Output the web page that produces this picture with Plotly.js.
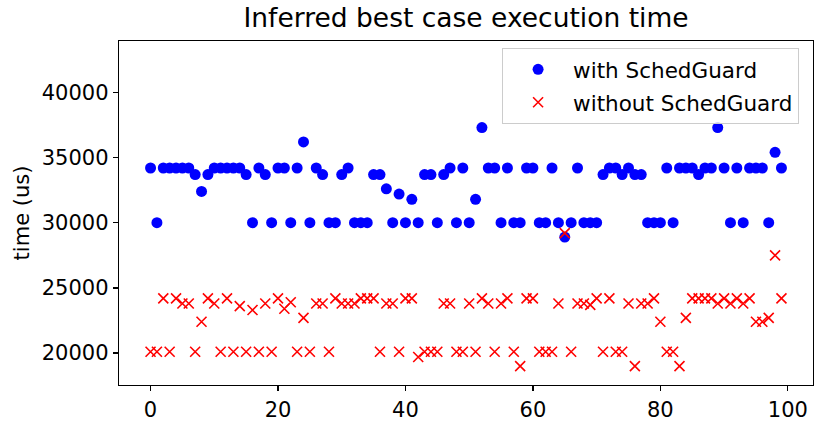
<!DOCTYPE html>
<html>
<head>
<meta charset="utf-8">
<script src="https://cdn.plot.ly/plotly-3.0.1.min.js"></script>
<style>html,body{margin:0;padding:0;background:#fff;}#chart{width:831px;height:429px;}</style>
</head>
<body>
<div id="chart"></div>
<script>
const runIndex = Array.from({length: 100}, (_, i) => i);

const withSchedGuard = [
  34200, 30000, 34200, 34200, 34200, 34200, 34200, 33700, 32400, 33700,
  34200, 34200, 34200, 34200, 34200, 33700, 30000, 34200, 33700, 30000,
  34200, 34200, 30000, 34200, 36200, 30000, 34200, 33700, 30000, 30000,
  33700, 34200, 30000, 30000, 30000, 33700, 33700, 32600, 30000, 32200,
  30000, 31800, 30000, 33700, 33700, 30000, 33700, 34200, 30000, 34200,
  30000, 31800, 37300, 34200, 34200, 30000, 34200, 30000, 30000, 34200,
  34200, 30000, 30000, 34200, 30000, 28900, 30000, 34200, 30000, 30000,
  30000, 33700, 34200, 34200, 33700, 34200, 33700, 33700, 30000, 30000,
  30000, 34200, 30000, 34200, 34200, 34200, 33700, 34200, 34200, 37300,
  34200, 30000, 34200, 30000, 34200, 34200, 34200, 30000, 35400, 34200
];

const withoutSchedGuard = [
  20100, 20100, 24200, 20100, 24200, 23800, 23800, 20100, 22400, 24200,
  23800, 20100, 24200, 20100, 23600, 20100, 23300, 20100, 23800, 20100,
  24200, 23400, 23900, 20100, 22700, 20100, 23800, 23800, 20100, 24200,
  23800, 23800, 23800, 24200, 24200, 24200, 20100, 23800, 23800, 20100,
  24200, 24200, 19700, 20100, 20100, 20100, 23800, 23800, 20100, 20100,
  23800, 20100, 24200, 23800, 20100, 23800, 24200, 20100, 19000, 24200,
  24200, 20100, 20100, 20100, 23800, 29200, 20100, 23800, 23800, 23700,
  24200, 20100, 24200, 20100, 20100, 23800, 19000, 23800, 23800, 24200,
  22400, 20100, 20100, 19000, 22700, 24200, 24200, 24200, 24200, 23800,
  24200, 23800, 24200, 23800, 24200, 22400, 22400, 22700, 27500, 24200
];

const xTicks = [0, 20, 40, 60, 80, 100];
const yTicks = [20000, 25000, 30000, 35000, 40000];

const font = "DejaVu Sans, Liberation Sans, sans-serif";

const traces = [
  {
    x: runIndex, y: withSchedGuard, type: 'scatter', mode: 'markers',
    name: 'with SchedGuard', legendgroup: 'a',
    marker: {color: '#0000ff', size: 11, symbol: 'circle', line: {width: 0}}
  },
  {
    x: runIndex, y: withoutSchedGuard, type: 'scatter', mode: 'markers',
    name: 'without SchedGuard', legendgroup: 'b',
    marker: {color: '#ff0000', size: 10, symbol: 'x-thin-open', line: {width: 1.6, color: '#ff0000'}}
  }
];

const axisCommon = {
  showline: true, linecolor: '#000', linewidth: 1.3, mirror: true,
  ticks: 'outside', ticklen: 5, tickwidth: 1.3, tickcolor: '#000',
  showgrid: false, zeroline: false,
  tickfont: {family: font, size: 21, color: '#000'}
};

const layout = {
  width: 831, height: 429,
  margin: {l: 118.5, r: 17.7, t: 40.5, b: 44, pad: 0},
  paper_bgcolor: '#fff', plot_bgcolor: '#fff',
  title: {text: 'Inferred best case execution time', font: {family: font, size: 26.5, color: '#000'},
          x: 0.5, xref: 'paper', xanchor: 'center', y: 0.958, yref: 'container', yanchor: 'middle'},
  xaxis: Object.assign({}, axisCommon, {range: [-4.95, 103.95], tickvals: xTicks, ticktext: xTicks.map(String)}),
  yaxis: Object.assign({}, axisCommon, {range: [17548, 43946], tickvals: yTicks, ticktext: yTicks.map(String),
    title: {text: 'time (us)', font: {family: font, size: 21, color: '#000'}, standoff: 6}}),
  showlegend: true,
  legend: {x: 0.552, y: 0.98, xanchor: 'left', yanchor: 'top',
           traceorder: 'grouped',
           bgcolor: 'rgba(255,255,255,0.8)', bordercolor: '#cccccc', borderwidth: 1,
           font: {family: font, size: 21.5, color: '#000'}, itemwidth: 60, tracegroupgap: 2}
};

Plotly.newPlot('chart', traces, layout, {displayModeBar: false, staticPlot: true});
</script>
</body>
</html>
